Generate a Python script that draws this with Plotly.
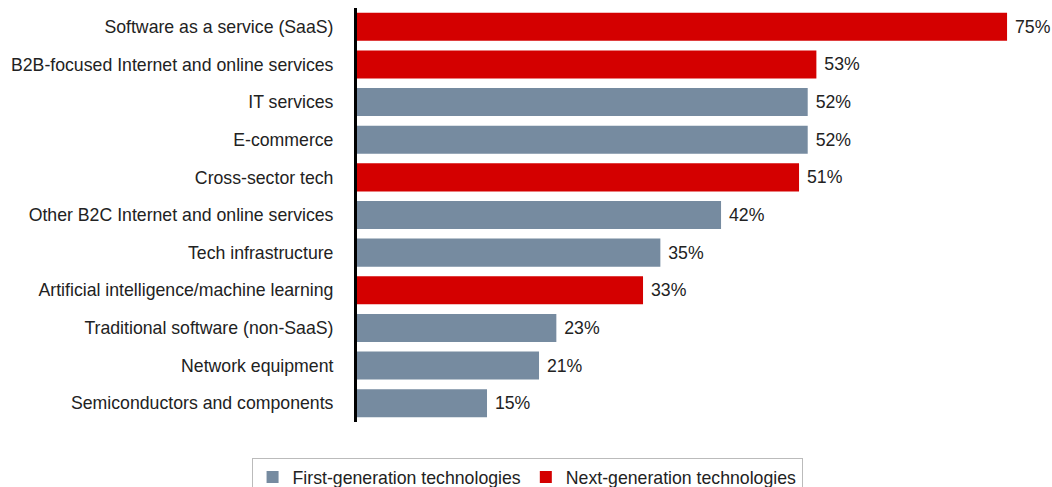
import plotly.graph_objects as go

categories = [
    "Software as a service (SaaS)",
    "B2B-focused Internet and online services",
    "IT services",
    "E-commerce",
    "Cross-sector tech",
    "Other B2C Internet and online services",
    "Tech infrastructure",
    "Artificial intelligence/machine learning",
    "Traditional software (non-SaaS)",
    "Network equipment",
    "Semiconductors and components",
]
values = [75, 53, 52, 52, 51, 42, 35, 33, 23, 21, 15]
groups = ["next", "next", "first", "first", "next", "first", "first", "next", "first", "first", "first"]

series = [
    ("first", "First-generation technologies", "#768ba0"),
    ("next", "Next-generation technologies", "#d40000"),
]

FONT = "Liberation Sans, Arial"
SIZE = 17.7

fig = go.Figure()
for key, name, color in series:
    cats = [c for c, g in zip(categories, groups) if g == key]
    vals = [v for v, g in zip(values, groups) if g == key]
    fig.add_trace(go.Bar(
        y=cats, x=vals, name=name, orientation="h",
        marker=dict(color=color, line=dict(width=0)),
        texttemplate="\u00a0%{x}%", textposition="outside",
        textfont=dict(size=SIZE, color="#222222", family=FONT),
        cliponaxis=False,
    ))

fig.update_layout(
    width=1052, height=487,
    margin=dict(l=357, r=12, t=8, b=65, autoexpand=False),
    paper_bgcolor="white", plot_bgcolor="white",
    barmode="relative", bargap=0.255,
    font=dict(family=FONT, size=SIZE, color="#222222"),
    xaxis=dict(range=[0, 78.8], visible=False, fixedrange=True),
    yaxis=dict(
        categoryorder="array", categoryarray=categories[::-1],
        showline=True, linecolor="black", linewidth=3,
        ticks="", showgrid=False, ticklabelstandoff=17,
        tickfont=dict(size=SIZE, color="#222222"),
    ),
    legend=dict(
        orientation="h", x=0.249, xanchor="center",
        y=-0.087, yanchor="top",
        bordercolor="#bbbbbb", borderwidth=1,
        font=dict(size=SIZE, color="#222222"), traceorder="normal",
        itemsizing="constant",
    ),
    showlegend=True,
)

fig.write_html("out.html")
